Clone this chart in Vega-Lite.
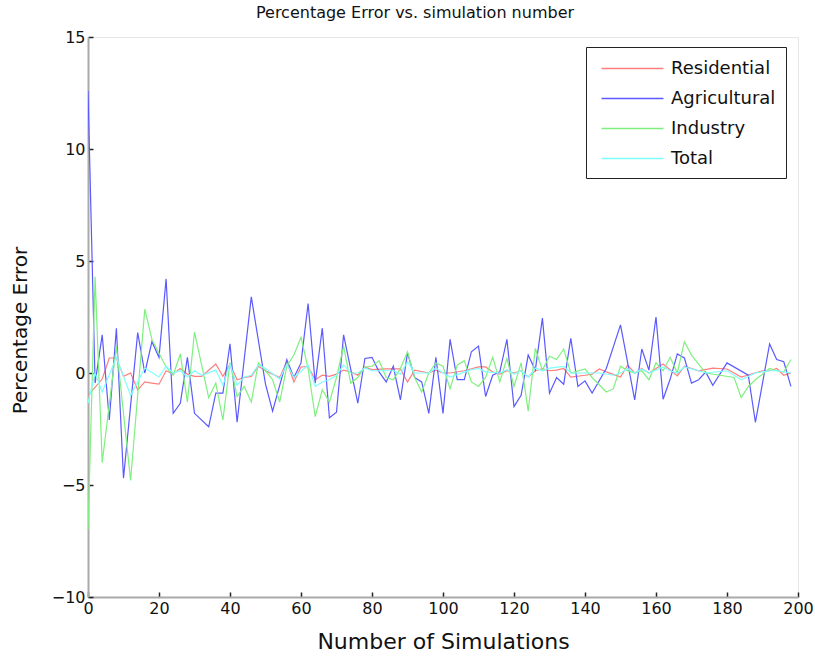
{
  "$schema": "https://vega.github.io/schema/vega-lite/v6.json",
  "width": 710,
  "height": 560,
  "autosize": {"type": "none"},
  "padding": {"left": 88, "top": 37, "right": 17, "bottom": 62},
  "background": "white",
  "title": {
    "text": "Percentage Error vs. simulation number",
    "font": "DejaVu Sans",
    "fontSize": 16,
    "fontWeight": "normal",
    "color": "#111",
    "anchor": "middle",
    "baseline": "bottom",
    "offset": -8,
    "dx": -28
  },
  "config": {
    "view": {"stroke": "#e6e6e6", "strokeWidth": 1},
    "axis": {
      "grid": false,
      "domainColor": "#aaaaaa",
      "domainWidth": 2,
      "tickColor": "#222",
      "tickSize": -5,
      "tickWidth": 1.5,
      "labelFlush": false,
      "labelFont": "DejaVu Sans",
      "labelFontSize": 16,
      "labelColor": "#111",
      "titleFont": "DejaVu Sans",
      "titleFontWeight": "normal",
      "titleColor": "#111"
    }
  },
  "data": {
    "values": [
      {"series": "Residential", "simulation": 0, "error": -1.0},
      {"series": "Residential", "simulation": 4, "error": -0.27},
      {"series": "Residential", "simulation": 6, "error": 0.67},
      {"series": "Residential", "simulation": 8, "error": 0.67},
      {"series": "Residential", "simulation": 10, "error": -0.15},
      {"series": "Residential", "simulation": 12, "error": 0.0},
      {"series": "Residential", "simulation": 14, "error": -0.75},
      {"series": "Residential", "simulation": 16, "error": -0.4},
      {"series": "Residential", "simulation": 18, "error": -0.45},
      {"series": "Residential", "simulation": 20, "error": -0.5},
      {"series": "Residential", "simulation": 22, "error": 0.1},
      {"series": "Residential", "simulation": 24, "error": -0.05},
      {"series": "Residential", "simulation": 26, "error": 0.2},
      {"series": "Residential", "simulation": 28, "error": -0.05},
      {"series": "Residential", "simulation": 30, "error": -0.15},
      {"series": "Residential", "simulation": 32, "error": -0.15},
      {"series": "Residential", "simulation": 36, "error": 0.4},
      {"series": "Residential", "simulation": 38, "error": -0.15},
      {"series": "Residential", "simulation": 40, "error": 0.4},
      {"series": "Residential", "simulation": 42, "error": -0.3},
      {"series": "Residential", "simulation": 44, "error": -0.2},
      {"series": "Residential", "simulation": 46, "error": -0.15},
      {"series": "Residential", "simulation": 48, "error": 0.3},
      {"series": "Residential", "simulation": 50, "error": 0.1},
      {"series": "Residential", "simulation": 52, "error": -0.05},
      {"series": "Residential", "simulation": 54, "error": -0.2},
      {"series": "Residential", "simulation": 56, "error": 0.5},
      {"series": "Residential", "simulation": 58, "error": -0.4},
      {"series": "Residential", "simulation": 60, "error": 0.27},
      {"series": "Residential", "simulation": 62, "error": 0.3},
      {"series": "Residential", "simulation": 64, "error": -0.3},
      {"series": "Residential", "simulation": 66, "error": -0.1},
      {"series": "Residential", "simulation": 68, "error": -0.15},
      {"series": "Residential", "simulation": 70, "error": -0.05},
      {"series": "Residential", "simulation": 72, "error": 0.13},
      {"series": "Residential", "simulation": 74, "error": 0.05},
      {"series": "Residential", "simulation": 76, "error": -0.1},
      {"series": "Residential", "simulation": 78, "error": 0.27},
      {"series": "Residential", "simulation": 80, "error": 0.15},
      {"series": "Residential", "simulation": 84, "error": 0.18},
      {"series": "Residential", "simulation": 88, "error": 0.18},
      {"series": "Residential", "simulation": 90, "error": -0.4},
      {"series": "Residential", "simulation": 92, "error": 0.13},
      {"series": "Residential", "simulation": 96, "error": 0.0},
      {"series": "Residential", "simulation": 98, "error": 0.13},
      {"series": "Residential", "simulation": 100, "error": 0.0},
      {"series": "Residential", "simulation": 102, "error": 0.0},
      {"series": "Residential", "simulation": 106, "error": 0.1},
      {"series": "Residential", "simulation": 110, "error": 0.27},
      {"series": "Residential", "simulation": 112, "error": 0.27},
      {"series": "Residential", "simulation": 114, "error": 0.05},
      {"series": "Residential", "simulation": 116, "error": -0.05},
      {"series": "Residential", "simulation": 118, "error": 0.1},
      {"series": "Residential", "simulation": 120, "error": 0.0},
      {"series": "Residential", "simulation": 122, "error": 0.1},
      {"series": "Residential", "simulation": 124, "error": -0.18},
      {"series": "Residential", "simulation": 126, "error": 0.1},
      {"series": "Residential", "simulation": 128, "error": 0.2},
      {"series": "Residential", "simulation": 130, "error": 0.1},
      {"series": "Residential", "simulation": 132, "error": 0.13},
      {"series": "Residential", "simulation": 134, "error": 0.2},
      {"series": "Residential", "simulation": 136, "error": -0.18},
      {"series": "Residential", "simulation": 140, "error": -0.1},
      {"series": "Residential", "simulation": 142, "error": -0.05},
      {"series": "Residential", "simulation": 144, "error": 0.18},
      {"series": "Residential", "simulation": 146, "error": 0.05},
      {"series": "Residential", "simulation": 150, "error": -0.18},
      {"series": "Residential", "simulation": 152, "error": 0.35},
      {"series": "Residential", "simulation": 154, "error": 0.0},
      {"series": "Residential", "simulation": 156, "error": 0.2},
      {"series": "Residential", "simulation": 158, "error": 0.0},
      {"series": "Residential", "simulation": 162, "error": 0.4},
      {"series": "Residential", "simulation": 166, "error": -0.13},
      {"series": "Residential", "simulation": 168, "error": 0.3},
      {"series": "Residential", "simulation": 172, "error": 0.1},
      {"series": "Residential", "simulation": 176, "error": 0.22},
      {"series": "Residential", "simulation": 180, "error": 0.18},
      {"series": "Residential", "simulation": 184, "error": -0.18},
      {"series": "Residential", "simulation": 190, "error": 0.1},
      {"series": "Residential", "simulation": 192, "error": 0.1},
      {"series": "Residential", "simulation": 194, "error": 0.2},
      {"series": "Residential", "simulation": 196, "error": -0.1},
      {"series": "Residential", "simulation": 198, "error": 0.0},

      {"series": "Agricultural", "simulation": 0, "error": 12.6},
      {"series": "Agricultural", "simulation": 2, "error": -0.45},
      {"series": "Agricultural", "simulation": 4, "error": 1.7},
      {"series": "Agricultural", "simulation": 6, "error": -2.1},
      {"series": "Agricultural", "simulation": 8, "error": 2.0},
      {"series": "Agricultural", "simulation": 10, "error": -4.7},
      {"series": "Agricultural", "simulation": 14, "error": 1.8},
      {"series": "Agricultural", "simulation": 16, "error": 0.0},
      {"series": "Agricultural", "simulation": 18, "error": 1.4},
      {"series": "Agricultural", "simulation": 20, "error": 0.7},
      {"series": "Agricultural", "simulation": 22, "error": 4.2},
      {"series": "Agricultural", "simulation": 24, "error": -1.8},
      {"series": "Agricultural", "simulation": 26, "error": -1.35},
      {"series": "Agricultural", "simulation": 28, "error": 0.7},
      {"series": "Agricultural", "simulation": 30, "error": -1.8},
      {"series": "Agricultural", "simulation": 34, "error": -2.4},
      {"series": "Agricultural", "simulation": 36, "error": -0.9},
      {"series": "Agricultural", "simulation": 38, "error": -0.9},
      {"series": "Agricultural", "simulation": 40, "error": 1.3},
      {"series": "Agricultural", "simulation": 42, "error": -2.2},
      {"series": "Agricultural", "simulation": 46, "error": 3.4},
      {"series": "Agricultural", "simulation": 50, "error": -0.5},
      {"series": "Agricultural", "simulation": 52, "error": -1.7},
      {"series": "Agricultural", "simulation": 56, "error": 0.6},
      {"series": "Agricultural", "simulation": 58, "error": -0.2},
      {"series": "Agricultural", "simulation": 60, "error": 0.45},
      {"series": "Agricultural", "simulation": 62, "error": 3.1},
      {"series": "Agricultural", "simulation": 64, "error": -0.45},
      {"series": "Agricultural", "simulation": 66, "error": 2.0},
      {"series": "Agricultural", "simulation": 68, "error": -2.0},
      {"series": "Agricultural", "simulation": 70, "error": -1.75},
      {"series": "Agricultural", "simulation": 72, "error": 1.7},
      {"series": "Agricultural", "simulation": 76, "error": -1.35},
      {"series": "Agricultural", "simulation": 78, "error": 0.65},
      {"series": "Agricultural", "simulation": 80, "error": 0.7},
      {"series": "Agricultural", "simulation": 82, "error": 0.05},
      {"series": "Agricultural", "simulation": 84, "error": -0.4},
      {"series": "Agricultural", "simulation": 86, "error": 0.3},
      {"series": "Agricultural", "simulation": 88, "error": -1.2},
      {"series": "Agricultural", "simulation": 90, "error": 0.9},
      {"series": "Agricultural", "simulation": 92, "error": -0.2},
      {"series": "Agricultural", "simulation": 94, "error": -0.4},
      {"series": "Agricultural", "simulation": 96, "error": -1.8},
      {"series": "Agricultural", "simulation": 98, "error": 0.7},
      {"series": "Agricultural", "simulation": 100, "error": -1.8},
      {"series": "Agricultural", "simulation": 102, "error": 1.5},
      {"series": "Agricultural", "simulation": 104, "error": -0.3},
      {"series": "Agricultural", "simulation": 106, "error": -0.3},
      {"series": "Agricultural", "simulation": 108, "error": 0.95},
      {"series": "Agricultural", "simulation": 110, "error": 1.2},
      {"series": "Agricultural", "simulation": 112, "error": -1.05},
      {"series": "Agricultural", "simulation": 114, "error": -0.1},
      {"series": "Agricultural", "simulation": 116, "error": 0.05},
      {"series": "Agricultural", "simulation": 118, "error": 1.5},
      {"series": "Agricultural", "simulation": 120, "error": -1.5},
      {"series": "Agricultural", "simulation": 122, "error": -1.0},
      {"series": "Agricultural", "simulation": 124, "error": 0.8},
      {"series": "Agricultural", "simulation": 126, "error": 0.13},
      {"series": "Agricultural", "simulation": 128, "error": 2.45},
      {"series": "Agricultural", "simulation": 130, "error": -0.9},
      {"series": "Agricultural", "simulation": 132, "error": -0.2},
      {"series": "Agricultural", "simulation": 134, "error": -0.5},
      {"series": "Agricultural", "simulation": 136, "error": 1.55},
      {"series": "Agricultural", "simulation": 138, "error": -0.6},
      {"series": "Agricultural", "simulation": 140, "error": -0.35},
      {"series": "Agricultural", "simulation": 142, "error": -0.9},
      {"series": "Agricultural", "simulation": 146, "error": 0.2},
      {"series": "Agricultural", "simulation": 150, "error": 2.15},
      {"series": "Agricultural", "simulation": 154, "error": -1.2},
      {"series": "Agricultural", "simulation": 156, "error": 1.07},
      {"series": "Agricultural", "simulation": 158, "error": 0.13},
      {"series": "Agricultural", "simulation": 160, "error": 2.5},
      {"series": "Agricultural", "simulation": 162, "error": -1.17},
      {"series": "Agricultural", "simulation": 164, "error": -0.27},
      {"series": "Agricultural", "simulation": 166, "error": 0.85},
      {"series": "Agricultural", "simulation": 168, "error": 0.67},
      {"series": "Agricultural", "simulation": 170, "error": -0.45},
      {"series": "Agricultural", "simulation": 172, "error": -0.3},
      {"series": "Agricultural", "simulation": 174, "error": 0.04},
      {"series": "Agricultural", "simulation": 176, "error": -0.55},
      {"series": "Agricultural", "simulation": 180, "error": 0.45},
      {"series": "Agricultural", "simulation": 186, "error": -0.1},
      {"series": "Agricultural", "simulation": 188, "error": -2.2},
      {"series": "Agricultural", "simulation": 192, "error": 1.3},
      {"series": "Agricultural", "simulation": 194, "error": 0.6},
      {"series": "Agricultural", "simulation": 196, "error": 0.5},
      {"series": "Agricultural", "simulation": 198, "error": -0.6},

      {"series": "Industry", "simulation": 0, "error": -7.0},
      {"series": "Industry", "simulation": 2, "error": 4.3},
      {"series": "Industry", "simulation": 4, "error": -4.0},
      {"series": "Industry", "simulation": 8, "error": 1.2},
      {"series": "Industry", "simulation": 12, "error": -4.8},
      {"series": "Industry", "simulation": 16, "error": 2.85},
      {"series": "Industry", "simulation": 18, "error": 1.5},
      {"series": "Industry", "simulation": 22, "error": 0.27},
      {"series": "Industry", "simulation": 24, "error": -0.1},
      {"series": "Industry", "simulation": 26, "error": 0.85},
      {"series": "Industry", "simulation": 28, "error": -1.3},
      {"series": "Industry", "simulation": 30, "error": 1.83},
      {"series": "Industry", "simulation": 34, "error": -1.1},
      {"series": "Industry", "simulation": 36, "error": -0.45},
      {"series": "Industry", "simulation": 38, "error": -2.1},
      {"series": "Industry", "simulation": 40, "error": 0.45},
      {"series": "Industry", "simulation": 42, "error": -1.05},
      {"series": "Industry", "simulation": 44, "error": -0.6},
      {"series": "Industry", "simulation": 46, "error": -1.3},
      {"series": "Industry", "simulation": 48, "error": 0.45},
      {"series": "Industry", "simulation": 50, "error": 0.1},
      {"series": "Industry", "simulation": 52, "error": -0.3},
      {"series": "Industry", "simulation": 54, "error": -1.3},
      {"series": "Industry", "simulation": 56, "error": 0.3},
      {"series": "Industry", "simulation": 58, "error": 0.8},
      {"series": "Industry", "simulation": 60, "error": 1.6},
      {"series": "Industry", "simulation": 62, "error": 0.2},
      {"series": "Industry", "simulation": 64, "error": -1.95},
      {"series": "Industry", "simulation": 66, "error": -0.75},
      {"series": "Industry", "simulation": 68, "error": -1.3},
      {"series": "Industry", "simulation": 70, "error": -0.2},
      {"series": "Industry", "simulation": 72, "error": 1.2},
      {"series": "Industry", "simulation": 74, "error": -0.45},
      {"series": "Industry", "simulation": 76, "error": -0.2},
      {"series": "Industry", "simulation": 78, "error": 0.27},
      {"series": "Industry", "simulation": 80, "error": 0.3},
      {"series": "Industry", "simulation": 82, "error": 0.55},
      {"series": "Industry", "simulation": 84, "error": -0.2},
      {"series": "Industry", "simulation": 86, "error": -0.3},
      {"series": "Industry", "simulation": 88, "error": 0.2},
      {"series": "Industry", "simulation": 90, "error": 0.95},
      {"series": "Industry", "simulation": 92, "error": -0.2},
      {"series": "Industry", "simulation": 94, "error": -0.85},
      {"series": "Industry", "simulation": 96, "error": 0.0},
      {"series": "Industry", "simulation": 98, "error": 0.45},
      {"series": "Industry", "simulation": 100, "error": 0.3},
      {"series": "Industry", "simulation": 102, "error": -0.7},
      {"series": "Industry", "simulation": 104, "error": 0.35},
      {"series": "Industry", "simulation": 106, "error": 0.55},
      {"series": "Industry", "simulation": 108, "error": -0.4},
      {"series": "Industry", "simulation": 110, "error": -0.6},
      {"series": "Industry", "simulation": 112, "error": -0.2},
      {"series": "Industry", "simulation": 114, "error": 0.7},
      {"series": "Industry", "simulation": 116, "error": -0.4},
      {"series": "Industry", "simulation": 118, "error": 0.65},
      {"series": "Industry", "simulation": 120, "error": -0.6},
      {"series": "Industry", "simulation": 122, "error": 0.45},
      {"series": "Industry", "simulation": 124, "error": -1.7},
      {"series": "Industry", "simulation": 126, "error": 1.1},
      {"series": "Industry", "simulation": 128, "error": 0.13},
      {"series": "Industry", "simulation": 130, "error": 0.75},
      {"series": "Industry", "simulation": 132, "error": 0.6},
      {"series": "Industry", "simulation": 134, "error": 1.07},
      {"series": "Industry", "simulation": 136, "error": 0.0},
      {"series": "Industry", "simulation": 140, "error": 0.18},
      {"series": "Industry", "simulation": 142, "error": -0.2},
      {"series": "Industry", "simulation": 146, "error": -0.85},
      {"series": "Industry", "simulation": 148, "error": -0.7},
      {"series": "Industry", "simulation": 150, "error": 0.3},
      {"series": "Industry", "simulation": 152, "error": 0.1},
      {"series": "Industry", "simulation": 154, "error": 0.0},
      {"series": "Industry", "simulation": 156, "error": 0.1},
      {"series": "Industry", "simulation": 158, "error": -0.3},
      {"series": "Industry", "simulation": 160, "error": 0.45},
      {"series": "Industry", "simulation": 162, "error": 0.1},
      {"series": "Industry", "simulation": 164, "error": 0.7},
      {"series": "Industry", "simulation": 166, "error": 0.0},
      {"series": "Industry", "simulation": 168, "error": 1.4},
      {"series": "Industry", "simulation": 170, "error": 0.8},
      {"series": "Industry", "simulation": 174, "error": 0.0},
      {"series": "Industry", "simulation": 178, "error": -0.1},
      {"series": "Industry", "simulation": 182, "error": -0.2},
      {"series": "Industry", "simulation": 184, "error": -1.1},
      {"series": "Industry", "simulation": 186, "error": -0.6},
      {"series": "Industry", "simulation": 188, "error": -0.3},
      {"series": "Industry", "simulation": 192, "error": 0.2},
      {"series": "Industry", "simulation": 194, "error": 0.1},
      {"series": "Industry", "simulation": 196, "error": 0.05},
      {"series": "Industry", "simulation": 198, "error": 0.6},

      {"series": "Total", "simulation": 0, "error": -1.35},
      {"series": "Total", "simulation": 2, "error": 0.0},
      {"series": "Total", "simulation": 4, "error": -0.85},
      {"series": "Total", "simulation": 8, "error": 0.7},
      {"series": "Total", "simulation": 12, "error": -1.0},
      {"series": "Total", "simulation": 16, "error": 0.22},
      {"series": "Total", "simulation": 20, "error": -0.18},
      {"series": "Total", "simulation": 22, "error": 0.3},
      {"series": "Total", "simulation": 24, "error": 0.0},
      {"series": "Total", "simulation": 26, "error": 0.1},
      {"series": "Total", "simulation": 28, "error": -0.18},
      {"series": "Total", "simulation": 30, "error": 0.1},
      {"series": "Total", "simulation": 32, "error": -0.1},
      {"series": "Total", "simulation": 36, "error": 0.13},
      {"series": "Total", "simulation": 38, "error": -0.55},
      {"series": "Total", "simulation": 40, "error": 0.4},
      {"series": "Total", "simulation": 42, "error": -0.55},
      {"series": "Total", "simulation": 44, "error": -0.18},
      {"series": "Total", "simulation": 46, "error": -0.1},
      {"series": "Total", "simulation": 48, "error": 0.36},
      {"series": "Total", "simulation": 50, "error": 0.2},
      {"series": "Total", "simulation": 54, "error": -0.27},
      {"series": "Total", "simulation": 56, "error": 0.4},
      {"series": "Total", "simulation": 58, "error": -0.2},
      {"series": "Total", "simulation": 62, "error": 0.36},
      {"series": "Total", "simulation": 64, "error": -0.6},
      {"series": "Total", "simulation": 66, "error": -0.4},
      {"series": "Total", "simulation": 68, "error": -0.3},
      {"series": "Total", "simulation": 70, "error": -0.1},
      {"series": "Total", "simulation": 72, "error": 0.36},
      {"series": "Total", "simulation": 74, "error": 0.0},
      {"series": "Total", "simulation": 76, "error": 0.0},
      {"series": "Total", "simulation": 78, "error": 0.22},
      {"series": "Total", "simulation": 80, "error": 0.1},
      {"series": "Total", "simulation": 84, "error": 0.1},
      {"series": "Total", "simulation": 86, "error": 0.1},
      {"series": "Total", "simulation": 88, "error": -0.05},
      {"series": "Total", "simulation": 90, "error": 0.5},
      {"series": "Total", "simulation": 92, "error": 0.0},
      {"series": "Total", "simulation": 96, "error": 0.0},
      {"series": "Total", "simulation": 98, "error": 0.22},
      {"series": "Total", "simulation": 100, "error": 0.0},
      {"series": "Total", "simulation": 102, "error": -0.18},
      {"series": "Total", "simulation": 106, "error": 0.04},
      {"series": "Total", "simulation": 108, "error": 0.15},
      {"series": "Total", "simulation": 110, "error": 0.2},
      {"series": "Total", "simulation": 112, "error": 0.05},
      {"series": "Total", "simulation": 116, "error": 0.0},
      {"series": "Total", "simulation": 118, "error": 0.15},
      {"series": "Total", "simulation": 120, "error": -0.05},
      {"series": "Total", "simulation": 122, "error": 0.1},
      {"series": "Total", "simulation": 124, "error": -0.18},
      {"series": "Total", "simulation": 126, "error": 0.22},
      {"series": "Total", "simulation": 128, "error": 0.1},
      {"series": "Total", "simulation": 130, "error": 0.22},
      {"series": "Total", "simulation": 134, "error": 0.3},
      {"series": "Total", "simulation": 136, "error": 0.0},
      {"series": "Total", "simulation": 140, "error": 0.0},
      {"series": "Total", "simulation": 144, "error": 0.0},
      {"series": "Total", "simulation": 148, "error": -0.1},
      {"series": "Total", "simulation": 150, "error": 0.0},
      {"series": "Total", "simulation": 152, "error": 0.2},
      {"series": "Total", "simulation": 154, "error": 0.0},
      {"series": "Total", "simulation": 156, "error": 0.18},
      {"series": "Total", "simulation": 158, "error": 0.0},
      {"series": "Total", "simulation": 162, "error": 0.27},
      {"series": "Total", "simulation": 164, "error": 0.1},
      {"series": "Total", "simulation": 166, "error": 0.0},
      {"series": "Total", "simulation": 168, "error": 0.27},
      {"series": "Total", "simulation": 172, "error": 0.1},
      {"series": "Total", "simulation": 174, "error": 0.0},
      {"series": "Total", "simulation": 180, "error": 0.1},
      {"series": "Total", "simulation": 184, "error": -0.3},
      {"series": "Total", "simulation": 188, "error": 0.0},
      {"series": "Total", "simulation": 192, "error": 0.1},
      {"series": "Total", "simulation": 194, "error": 0.1},
      {"series": "Total", "simulation": 198, "error": 0.0}
    ]
  },
  "mark": {"type": "line", "strokeWidth": 1.2, "clip": true},
  "encoding": {
    "x": {
      "field": "simulation",
      "type": "quantitative",
      "scale": {"domain": [0, 200], "nice": false, "zero": false},
      "axis": {
        "values": [0, 20, 40, 60, 80, 100, 120, 140, 160, 180, 200],
        "labelPadding": 8,
        "title": "Number of Simulations",
        "titleFontSize": 22,
        "titleBaseline": "alphabetic",
        "titleX": 355,
        "titleY": 51
      }
    },
    "y": {
      "field": "error",
      "type": "quantitative",
      "scale": {"domain": [-10, 15], "nice": false, "zero": false},
      "axis": {
        "values": [-10, -5, 0, 5, 10, 15],
        "labelPadding": 8,
        "title": "Percentage Error",
        "titleFontSize": 20,
        "titleAngle": 270,
        "titleBaseline": "bottom",
        "titleX": -58,
        "titleY": 293
      }
    },
    "color": {
      "field": "series",
      "type": "nominal",
      "sort": ["Residential", "Agricultural", "Industry", "Total"],
      "scale": {
        "domain": ["Residential", "Agricultural", "Industry", "Total"],
        "range": ["#ff7f7f", "#5a5aff", "#7ff07f", "#7fffff"]
      },
      "legend": {
        "title": null,
        "orient": "none",
        "legendX": 498,
        "legendY": 10,
        "padding": 10,
        "fillColor": "white",
        "strokeColor": "#222",
        "symbolType": "M-3,0H3",
        "symbolSize": 427,
        "symbolStrokeWidth": 1.5,
        "symbolOffset": 25,
        "labelOffset": 27,
        "labelFont": "DejaVu Sans",
        "labelFontSize": 18,
        "labelColor": "#111",
        "labelLimit": 300,
        "rowPadding": 9
      }
    }
  }
}
